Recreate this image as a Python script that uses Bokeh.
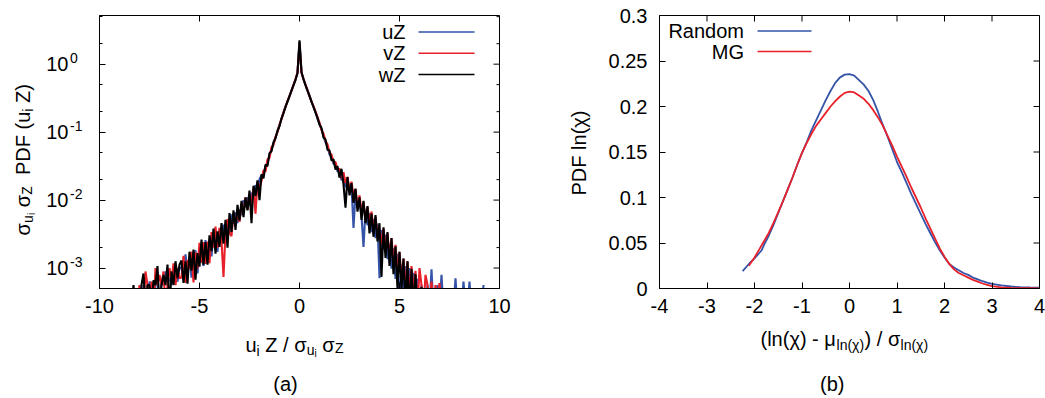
import math
import numpy as np
from bokeh.plotting import figure
from bokeh.layouts import row
from bokeh.models import (Range1d, FixedTicker, Label, Arrow, CustomJSTickFormatter)
from bokeh.core.properties import value
from bokeh.embed import file_html
from bokeh.resources import INLINE

# ---------------- data: panel (a) -- log10 of PDF on shared bins ----------------
x_bins = [-8.4, -8.3, -8.2, -8.1, -8.0, -7.9, -7.8, -7.7, -7.6, -7.5, -7.4, -7.3, -7.2, -7.1, -7.0,
          -6.9, -6.8, -6.7, -6.6, -6.5, -6.4, -6.3, -6.2, -6.1, -6.0,
          -5.9, -5.8, -5.7, -5.6, -5.5, -5.4, -5.3, -5.2, -5.1, -5.0,
          -4.9, -4.8, -4.7, -4.6, -4.5, -4.4, -4.3, -4.2, -4.1, -4.0,
          -3.9, -3.8, -3.7, -3.6, -3.5, -3.4, -3.3, -3.2, -3.1, -3.0,
          -2.9, -2.8, -2.7, -2.6, -2.5, -2.4, -2.3, -2.2, -2.1, -2.0,
          -1.9, -1.8, -1.7, -1.6, -1.5, -1.4, -1.3, -1.2, -1.1, -1.0,
          -0.9, -0.8, -0.7, -0.6, -0.5, -0.4, -0.3, -0.2, -0.1,
          0.0,
          0.1, 0.2, 0.3, 0.4, 0.5, 0.6, 0.7, 0.8, 0.9, 1.0,
          1.1, 1.2, 1.3, 1.4, 1.5, 1.6, 1.7, 1.8, 1.9,
          2.0, 2.1, 2.2, 2.3, 2.4, 2.5, 2.6, 2.7, 2.8, 2.9,
          3.0, 3.1, 3.2, 3.3, 3.4, 3.5, 3.6, 3.7, 3.8, 3.9,
          4.0, 4.1, 4.2, 4.3, 4.4, 4.5, 4.6, 4.7, 4.8, 4.9,
          5.0, 5.1, 5.2, 5.3, 5.4, 5.5, 5.6, 5.7, 5.8, 5.9,
          6.0, 6.1, 6.2, 6.3, 6.4, 6.5, 6.6, 6.7, 6.8, 6.9,
          7.0, 7.1, 7.2, 7.3, 7.4, 7.5, 7.6, 7.7, 7.8, 7.9,
          8.0, 8.1, 8.2, 8.3, 8.4, 8.5, 8.6, 8.7, 8.8, 8.9,
          9.0, 9.1, 9.2]

uZ_log = [-3.6, -3.6, -3.6, -3.6, -3.6, -3.6, -3.25, -3.6, -3.6, -3.2, -3.25, -3.6, -3.25, -3.1, -3.6,
          -3.2, -3.25, -3.05, -3.2, -3.15, -3.25, -3.05, -3.1, -3.2, -3.0,
          -2.99, -3.17, -2.80, -3.08, -2.84, -3.14, -2.86, -2.74, -3.08, -2.73,
          -2.85, -2.97, -2.59, -2.83, -2.60, -2.83, -2.48, -2.65, -2.76, -2.43,
          -2.55, -2.36, -2.55, -2.35, -2.46, -2.21, -2.35, -2.18, -2.34, -2.14,
          -2.22, -2.00, -2.11, -1.96, -2.08, -1.89, -1.95, -1.78, -1.84, -1.69,
          -1.64, -1.63, -1.50, -1.46, -1.33, -1.26, -1.16, -1.08, -0.99, -0.9,
          -0.8, -0.71, -0.62, -0.55, -0.47, -0.39, -0.31, -0.23, -0.13,
          0.33,
          -0.12, -0.22, -0.31, -0.39, -0.46, -0.55, -0.63, -0.71, -0.80, -0.88,
          -0.96, -1.06, -1.15, -1.21, -1.33, -1.36, -1.47, -1.47, -1.58,
          -1.56, -1.71, -1.62, -1.81, -1.72, -1.88, -1.79, -2.41, -1.90, -2.11,
          -1.99, -2.23, -2.69, -2.14, -2.37, -2.19, -2.47, -2.28, -2.56, -2.35,
          -3.15, -2.44, -2.73, -2.51, -2.87, -2.64, -3.01, -2.71, -3.16, -2.79,
          -3.56, -2.95, -3.34, -2.97, -3.60, -3.00, -3.60, -3.07, -3.59, -3.16,
          -3.6, -3.25, -3.6, -3.6, -3.25, -3.6, -3.02, -3.6, -3.6, -3.25,
          -3.6, -3.1, -3.6, -3.6, -3.6, -3.6, -3.6, -3.6, -3.15, -3.6,
          -3.6, -3.6, -3.2, -3.6, -3.6, -3.2, -3.6, -3.6, -3.6, -3.6,
          -3.6, -3.6, -3.25]

vZ_log = [-3.6, -3.6, -3.6, -3.6, -3.25, -3.6, -3.6, -3.05, -3.25, -3.6, -3.2, -3.6, -3.0, -3.25, -3.1,
          -3.25, -3.05, -3.6, -3.25, -3.0, -3.2, -2.93, -3.25, -3.0, -3.15,
          -3.14, -2.82, -3.22, -2.88, -3.01, -2.76, -3.21, -2.77, -3.01, -2.63,
          -2.92, -2.62, -2.94, -2.61, -2.93, -2.47, -2.70, -2.39, -2.70, -2.41,
          -2.60, -3.13, -2.48, -2.28, -2.48, -2.53, -2.19, -2.36, -2.17, -2.32,
          -2.06, -2.16, -1.96, -2.14, -1.92, -2.04, -1.82, -2.20, -1.73, -1.82,
          -1.72, -1.56, -1.58, -1.40, -1.38, -1.22, -1.19, -1.07, -1.0, -0.89,
          -0.81, -0.71, -0.63, -0.54, -0.47, -0.39, -0.31, -0.22, -0.12,
          0.30,
          -0.13, -0.22, -0.30, -0.38, -0.47, -0.55, -0.62, -0.70, -0.78, -0.86,
          -0.97, -1.02, -1.13, -1.18, -1.30, -1.33, -1.44, -1.44, -1.55,
          -1.54, -1.68, -1.59, -1.75, -1.66, -1.86, -1.73, -1.95, -1.84, -2.09,
          -1.93, -2.17, -2.03, -2.30, -2.10, -2.34, -2.17, -2.44, -2.25, -2.51,
          -2.43, -2.64, -2.42, -2.71, -2.49, -2.84, -2.56, -2.91, -2.66, -3.06,
          -2.76, -3.20, -2.86, -3.32, -2.90, -3.42, -2.97, -3.37, -3.04, -3.61,
          -3.0, -3.25, -3.6, -3.1, -3.25, -3.6, -3.2, -3.6, -3.25, -3.6,
          -3.22, -3.6, -3.6, -3.6, -3.6, -3.6, -3.6, -3.6, -3.6, -3.6,
          -3.6, -3.6, -3.6, -3.6, -3.6, -3.6, -3.6, -3.6, -3.6, -3.6,
          -3.6, -3.6, -3.6]

wZ_log = [-3.6, -3.25, -3.6, -3.6, -3.6, -3.25, -3.08, -3.6, -3.25, -3.25, -3.6, -3.18, -3.25, -2.97, -3.6,
          -3.25, -3.1, -3.25, -2.95, -3.6, -3.05, -3.25, -2.9, -3.15, -2.95,
          -2.89, -3.22, -2.90, -3.23, -2.76, -3.04, -2.73, -3.17, -2.78, -2.98,
          -2.58, -2.95, -2.62, -2.95, -2.52, -2.75, -2.42, -2.79, -2.46, -2.69,
          -2.34, -2.64, -2.29, -2.70, -2.19, -2.47, -2.15, -2.44, -2.07, -2.30,
          -2.01, -2.25, -1.96, -2.15, -1.86, -2.34, -1.79, -1.94, -1.71, -2.00,
          -1.62, -1.68, -1.48, -1.50, -1.31, -1.28, -1.15, -1.09, -0.98, -0.91,
          -0.8, -0.72, -0.63, -0.55, -0.47, -0.39, -0.31, -0.23, -0.13,
          0.35,
          -0.12, -0.22, -0.31, -0.39, -0.47, -0.55, -0.63, -0.71, -0.79, -0.89,
          -0.94, -1.08, -1.11, -1.26, -1.27, -1.42, -1.40, -1.55, -1.50,
          -1.67, -1.54, -1.77, -2.11, -1.66, -1.93, -1.75, -2.04, -1.83, -2.17,
          -1.96, -2.29, -2.01, -2.34, -2.09, -2.49, -2.20, -2.54, -2.22, -2.61,
          -2.34, -3.13, -2.40, -2.85, -2.47, -2.97, -2.56, -3.09, -2.68, -3.31,
          -2.76, -3.30, -2.86, -3.57, -2.90, -3.62, -3.01, -3.57, -3.09, -3.61,
          -3.6, -3.28, -3.6, -3.6, -3.6, -3.6, -3.6, -3.6, -3.6, -3.6,
          -3.6, -3.6, -3.6, -3.6, -3.6, -3.6, -3.6, -3.6, -3.6, -3.6,
          -3.6, -3.6, -3.6, -3.6, -3.6, -3.6, -3.6, -3.6, -3.6, -3.6,
          -3.6, -3.6, -3.6]

a_series = ["uZ", "vZ", "wZ"]
a_xticks = [-10, -5, 0, 5, 10]
a_yticks = [1e-3, 1e-2, 1e-1, 1.0]
a_ytick_exp = ["-3", "-2", "-1", "0"]
a_yminor = [2e-3, 5e-3, 2e-2, 5e-2, 0.2, 0.5, 2.0, 5.0]

# ---------------- data: panel (b) ----------------
rand_x = [-2.25, -2.1, -2.0, -1.9, -1.85, -1.8, -1.7, -1.6, -1.5, -1.4, -1.3, -1.2, -1.1, -1.0,
          -0.9, -0.8, -0.7, -0.6, -0.5, -0.4, -0.3, -0.2, -0.1, 0.0, 0.1, 0.2, 0.3, 0.4, 0.5,
          0.6, 0.7, 0.8, 0.9, 1.0, 1.1, 1.2, 1.3, 1.4, 1.5, 1.6, 1.7, 1.8, 1.9, 2.0, 2.1, 2.2,
          2.3, 2.4, 2.5, 2.6, 2.7, 2.8, 2.9, 3.0, 3.2, 3.4, 3.6, 3.8, 4.0]
rand_y = [0.019, 0.028, 0.033, 0.039, 0.042, 0.048, 0.058, 0.070, 0.083, 0.096, 0.109, 0.122,
          0.136, 0.149, 0.161, 0.174, 0.185, 0.196, 0.207, 0.217, 0.226, 0.232, 0.235, 0.2355,
          0.234, 0.229, 0.224, 0.217, 0.207, 0.194, 0.180, 0.167, 0.153, 0.139, 0.128, 0.116,
          0.104, 0.093, 0.082, 0.071, 0.061, 0.051, 0.042, 0.034, 0.027, 0.023, 0.020, 0.017,
          0.015, 0.012, 0.010, 0.008, 0.0065, 0.0052, 0.0035, 0.0022, 0.0014, 0.0011, 0.0009]
mg_x = [-2.12, -2.0, -1.9, -1.8, -1.7, -1.6, -1.5, -1.4, -1.3, -1.2, -1.1, -1.0, -0.9, -0.8,
        -0.7, -0.6, -0.5, -0.4, -0.3, -0.2, -0.1, 0.0, 0.1, 0.2, 0.3, 0.4, 0.5, 0.6, 0.7, 0.8,
        0.9, 1.0, 1.1, 1.2, 1.3, 1.4, 1.5, 1.6, 1.7, 1.8, 1.9, 2.0, 2.1, 2.2, 2.3, 2.4, 2.5,
        2.6, 2.7, 2.8, 2.9, 3.0, 3.2, 3.4, 3.6, 3.8, 4.0]
mg_y = [0.025, 0.034, 0.043, 0.052, 0.061, 0.072, 0.084, 0.096, 0.109, 0.122, 0.136, 0.149,
        0.160, 0.170, 0.179, 0.186, 0.193, 0.200, 0.206, 0.211, 0.215, 0.2163, 0.2155, 0.212,
        0.2085, 0.203, 0.196, 0.188, 0.179, 0.168, 0.157, 0.145, 0.134, 0.123, 0.111, 0.100,
        0.089, 0.077, 0.066, 0.055, 0.044, 0.035, 0.027, 0.021, 0.017, 0.0145, 0.012, 0.0095,
        0.0075, 0.0055, 0.004, 0.0025, 0.0012, 0.0006, 0.0003, 0.0003, 0.0002]
b_series = ["Random", "MG"]
b_xticks = [-4, -3, -2, -1, 0, 1, 2, 3, 4]
b_yticks = [0, 0.05, 0.1, 0.15, 0.2, 0.25, 0.3]

assert len(uZ_log) == len(vZ_log) == len(wZ_log) == len(x_bins)
assert len(rand_x) == len(rand_y) and len(mg_x) == len(mg_y)

# ---------------- styling ----------------
FONT = "Liberation Sans"
BLUE = "#3553a8"
RED = "#e8202a"
BLACK = "#000000"
FS = 20
MAJ, MIN = 6, 3   # tick lengths in px
NB = "\u00a0"     # non-breaking space (plain spaces at text edges are dropped in SVG)

CW = {' ': 0.278, NB: 0.278, '(': 0.333, ')': 0.333, '/': 0.278, '-': 0.333, 'P': 0.667,
      'D': 0.722, 'F': 0.611, 'Z': 0.611, 'u': 0.556, 'i': 0.222, 'l': 0.222, 'n': 0.556,
      'σ': 0.63, 'χ': 0.56, 'μ': 0.576}

PLAIN = CustomJSTickFormatter(code="return String(tick);")


def text_width(s, size):
    return sum(CW.get(c, 0.556) for c in s) * size


def style_axis(ax):
    ax.axis_line_color = "black"
    ax.axis_line_width = 1
    ax.major_tick_line_color = "black"
    ax.minor_tick_line_color = "black"
    ax.major_tick_in = MAJ
    ax.major_tick_out = 0
    ax.minor_tick_in = MIN
    ax.minor_tick_out = 0
    ax.major_label_text_font = FONT
    ax.major_label_text_color = "black"
    ax.major_label_text_font_size = f"{FS}px"


def gtext(p, text, x, y, dx, dy, size=FS, align="left", baseline="alphabetic", angle=0.0):
    """Text glyph anchored at a data point, shifted by (dx, dy) px (dy positive = down).
    Drawn on the overlay level so that it may sit in the figure border."""
    p.text(x=[x], y=[y], text=[text.replace(" ", NB)], x_offset=dx, y_offset=dy, angle=angle,
           text_font=value(FONT), text_font_size=value(f"{size}px"), text_color="black",
           text_align=align, text_baseline=baseline, level="overlay")


def rich(p, runs, x, y, x0, y0, vertical=False):
    pos = 0.0
    for txt, size, shift in runs:
        if vertical:
            gtext(p, txt, x, y, x0 - shift, y0 - pos, size=size, angle=math.pi / 2)
        else:
            gtext(p, txt, x, y, x0 + pos, y0 - shift, size=size)
        pos += text_width(txt, size)


def frame_style(p):
    p.outline_line_color = "black"
    p.outline_line_width = 1
    p.xgrid.grid_line_color = None
    p.ygrid.grid_line_color = None
    p.background_fill_color = "white"
    p.border_fill_color = "white"


def legend_entry(p, name, color, tx, y, lx0, lx1):
    p.add_layout(Label(x=tx, y=y, x_units="screen", y_units="screen", text=name,
                       text_font=FONT, text_font_size=f"{FS}px", text_color="black",
                       text_align="right", text_baseline="middle"))
    p.add_layout(Arrow(start=None, end=None, x_start=lx0, y_start=y, x_end=lx1, y_end=y,
                       start_units="screen", end_units="screen",
                       line_color=color, line_width=1.6))


# ---------------- panel (a) ----------------
A_W, A_H = 400, 273
a_x0, a_x1 = -10, 10
a_y0, a_y1 = 5e-4, 5.2
pa = figure(width=522, height=398, x_range=Range1d(a_x0, a_x1), y_range=Range1d(a_y0, a_y1),
            y_axis_type="log", output_backend="svg", toolbar_location=None,
            min_border_left=99, min_border_right=23, min_border_top=15, min_border_bottom=110)
frame_style(pa)
pa.xaxis[0].ticker = FixedTicker(ticks=a_xticks)
style_axis(pa.xaxis[0])
pa.xaxis[0].formatter = PLAIN
pa.xaxis[0].major_label_standoff = 10
pa.yaxis[0].ticker = FixedTicker(ticks=a_yticks, minor_ticks=a_yminor)
style_axis(pa.yaxis[0])
pa.yaxis[0].formatter = CustomJSTickFormatter(code="return '10';")
pa.yaxis[0].major_label_standoff = 31

# mirrored ticks (top and right), lengths converted from px to data units
a_ppd = A_H / (math.log10(a_y1) - math.log10(a_y0))
a_dx = (a_x1 - a_x0) / A_W
pa.segment(x0=a_xticks, y0=[a_y1] * len(a_xticks), x1=a_xticks,
           y1=[a_y1 / 10 ** (MAJ / a_ppd)] * len(a_xticks), line_color="black", line_width=1)
pa.segment(x0=[a_x1] * len(a_yticks), y0=a_yticks, x1=[a_x1 - MAJ * a_dx] * len(a_yticks),
           y1=a_yticks, line_color="black", line_width=1)
pa.segment(x0=[a_x1] * len(a_yminor), y0=a_yminor, x1=[a_x1 - MIN * a_dx] * len(a_yminor),
           y1=a_yminor, line_color="black", line_width=1)

xa = np.array(x_bins)
for logs, col in ((uZ_log, BLUE), (vZ_log, RED), (wZ_log, BLACK)):
    pa.line(xa, np.power(10.0, np.array(logs)), line_color=col, line_width=2.1)

for t, e in zip(a_yticks, a_ytick_exp):
    gtext(pa, e, a_x0, t, -29.5, -6, size=14, baseline="middle")

for name, col, yy in zip(a_series, (BLUE, RED, BLACK), (256.5, 235.3, 214.0)):
    legend_entry(pa, name, col, 306, yy, 319, 375)

rich(pa, [("u", FS, 0), ("i", 14, -6), (" Z / σ", FS, 0), ("u", 14, -5), ("i", 10, -9),
          (" σ", FS, 0), ("Z", 14, -3)], a_x0, a_y0, 146, 56)
rich(pa, [("σ", FS, 0), ("u", 14, -5), ("i", 10, -9), (" σ", FS, 0), ("Z", 14, -4),
          ("  PDF (u", FS, 0), ("i", 14, -5), (" Z)", FS, 0)], a_x0, a_y0, -77, -53,
     vertical=True)
gtext(pa, "(a)", a_x0, a_y0, 186, 95, align="center")

# ---------------- panel (b) ----------------
B_W, B_H = 380, 273
b_x0, b_x1 = -4, 4
b_y0, b_y1 = 0, 0.3
pb = figure(width=523, height=398, x_range=Range1d(b_x0, b_x1), y_range=Range1d(b_y0, b_y1),
            output_backend="svg", toolbar_location=None,
            min_border_left=137, min_border_right=6, min_border_top=15, min_border_bottom=110)
frame_style(pb)
pb.xaxis[0].ticker = FixedTicker(ticks=b_xticks)
style_axis(pb.xaxis[0])
pb.xaxis[0].formatter = PLAIN
pb.xaxis[0].major_label_standoff = 10
pb.yaxis[0].ticker = FixedTicker(ticks=b_yticks)
style_axis(pb.yaxis[0])
pb.yaxis[0].major_label_standoff = 12
pb.yaxis[0].formatter = CustomJSTickFormatter(
    code="return tick === 0 ? '0' : String(Math.round(tick * 100) / 100);")

b_dy = (b_y1 - b_y0) / B_H
b_dx = (b_x1 - b_x0) / B_W
pb.segment(x0=b_xticks, y0=[b_y1] * len(b_xticks), x1=b_xticks,
           y1=[b_y1 - MAJ * b_dy] * len(b_xticks), line_color="black", line_width=1)
pb.segment(x0=[b_x1] * len(b_yticks), y0=b_yticks, x1=[b_x1 - MAJ * b_dx] * len(b_yticks),
           y1=b_yticks, line_color="black", line_width=1)

pb.line(rand_x, rand_y, line_color=BLUE, line_width=1.8)
pb.line(mg_x, mg_y, line_color=RED, line_width=1.8)

for name, col, yy in zip(b_series, (BLUE, RED), (257.5, 237.0)):
    legend_entry(pb, name, col, 84.5, yy, 98, 152)

rich(pb, [("(ln(χ) - μ", FS, 0), ("ln(χ)", 14, -6), (") / σ", FS, 0), ("ln(χ)", 14, -6)],
     b_x0, b_y0, 101, 50.5)
gtext(pb, "PDF ln(χ)", b_x0, b_y0, -80.3, -135.5, align="center", angle=math.pi / 2)
gtext(pb, "(b)", b_x0, b_y0, 172.7, 95, align="center")

layout = row(pa, pb, spacing=0)
open("out.html", "w").write(file_html(layout, INLINE))
